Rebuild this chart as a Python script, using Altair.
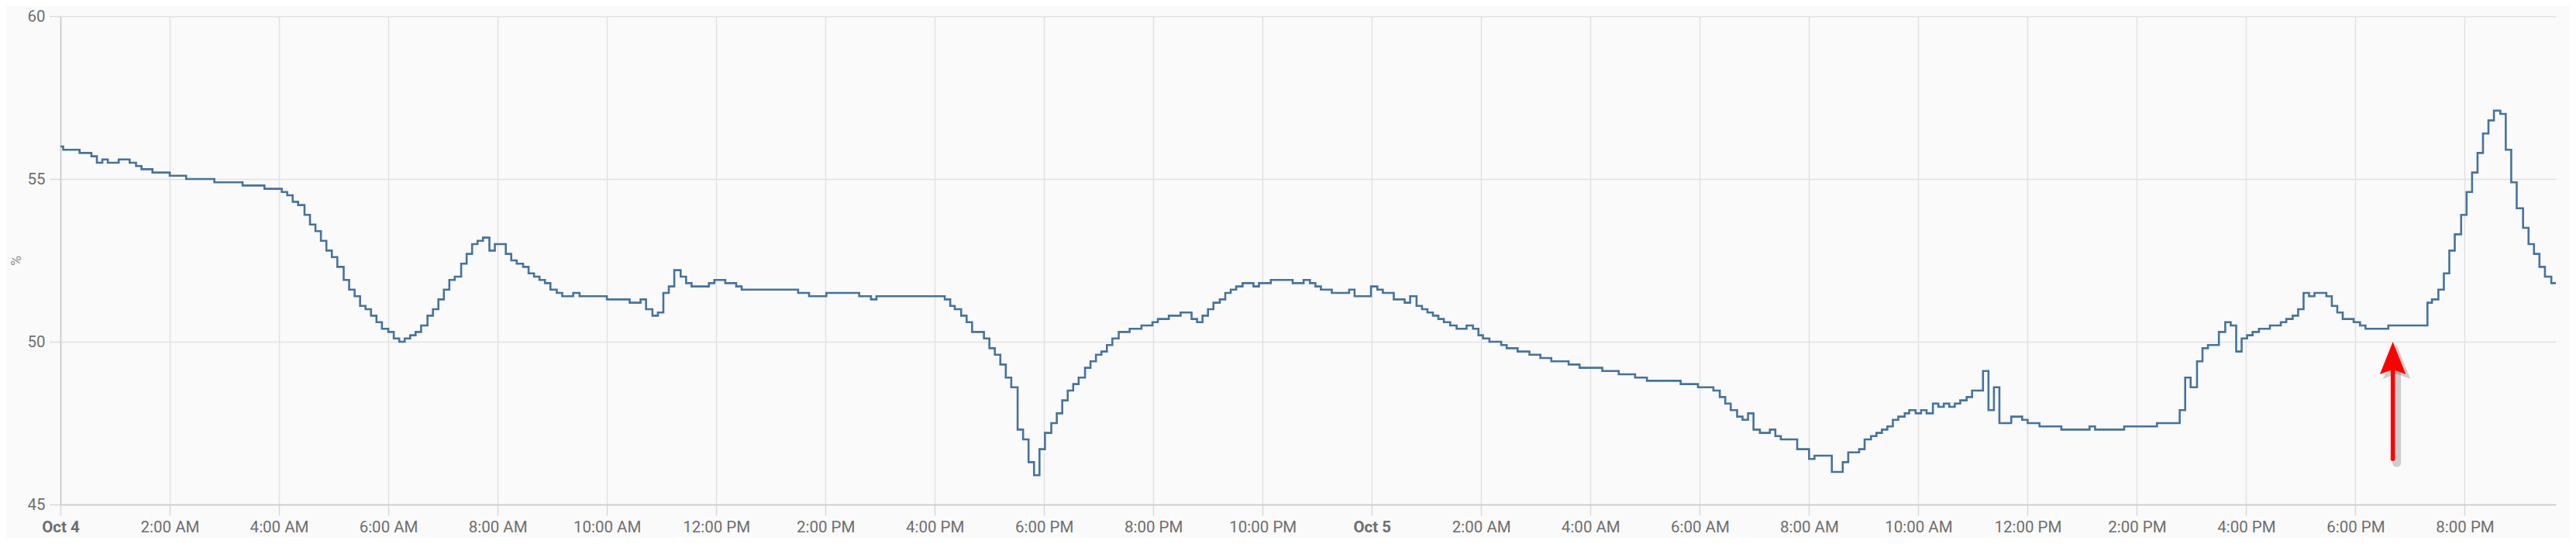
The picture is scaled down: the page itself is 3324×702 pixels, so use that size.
import altair as alt
import pandas as pd

# minutes after Oct 4 00:00 at which the reading changes, and the reading (%)
minutes = [
    0, 3, 21, 34, 40, 46, 52, 64, 76, 83, 89, 101, 120, 138, 169, 200, 224, 243, 249, 255,
    261, 268, 274, 280, 286, 292, 298, 304, 311, 317, 323, 329, 335, 341, 347, 353, 360, 366, 372, 378,
    384, 390, 396, 403, 409, 415, 421, 427, 433, 440, 446, 452, 458, 464, 471, 477, 489, 495, 501, 508,
    514, 520, 526, 532, 538, 545, 551, 563, 570, 600, 625, 637, 643, 650, 656, 662, 668, 674, 681, 687,
    693, 712, 718, 730, 742, 748, 810, 822, 841, 877, 890, 896, 971, 977, 982, 989, 995, 1001, 1014, 1020,
    1026, 1032, 1038, 1044, 1051, 1057, 1063, 1069, 1075, 1081, 1088, 1094, 1100, 1106, 1112, 1118, 1125, 1131, 1137, 1143,
    1149, 1155, 1162, 1174, 1187, 1199, 1205, 1217, 1230, 1242, 1248, 1254, 1260, 1266, 1273, 1279, 1285, 1291, 1298, 1310,
    1316, 1329, 1353, 1365, 1372, 1378, 1384, 1396, 1415, 1421, 1439, 1446, 1452, 1464, 1476, 1482, 1489, 1495, 1501, 1507,
    1513, 1519, 1526, 1533, 1544, 1551, 1557, 1562, 1569, 1582, 1588, 1600, 1613, 1625, 1637, 1656, 1668, 1693, 1711, 1729,
    1742, 1779, 1798, 1815, 1822, 1828, 1834, 1841, 1847, 1853, 1859, 1866, 1877, 1883, 1889, 1907, 1920, 1926, 1945, 1957,
    1963, 1975, 1981, 1988, 1994, 2000, 2006, 2012, 2018, 2025, 2030, 2037, 2043, 2049, 2056, 2062, 2068, 2074, 2080, 2086,
    2093, 2099, 2111, 2117, 2123, 2129, 2142, 2154, 2160, 2173, 2197, 2228, 2234, 2266, 2302, 2327, 2333, 2339, 2346, 2352,
    2358, 2370, 2377, 2383, 2389, 2395, 2401, 2407, 2414, 2426, 2438, 2444, 2451, 2457, 2463, 2469, 2475, 2488, 2494, 2500,
    2506, 2518, 2525, 2531, 2556, 2599, 2604, 2611, 2617, 2623, 2629, 2636, 2642, 2648, 2654, 2660, 2666, 2672, 2679, 2685,
    2691, 2697, 2704, 2710, 2716, 2722, 2728, 2735, 2740,
]
humidity = [
    56.0, 55.9, 55.8, 55.7, 55.5, 55.6, 55.5, 55.6, 55.5, 55.4, 55.3, 55.2, 55.1, 55.0, 54.9, 54.8, 54.7, 54.6, 54.5, 54.3,
    54.2, 53.9, 53.6, 53.4, 53.1, 52.8, 52.6, 52.3, 51.9, 51.6, 51.4, 51.1, 51.0, 50.8, 50.6, 50.4, 50.3, 50.1, 50.0, 50.1,
    50.2, 50.3, 50.5, 50.8, 51.0, 51.3, 51.6, 51.9, 52.0, 52.4, 52.7, 53.0, 53.1, 53.2, 52.8, 53.0, 52.7, 52.5, 52.4, 52.3,
    52.1, 52.0, 51.9, 51.8, 51.6, 51.5, 51.4, 51.5, 51.4, 51.3, 51.2, 51.3, 51.0, 50.8, 50.9, 51.5, 51.7, 52.2, 52.0, 51.8,
    51.7, 51.8, 51.9, 51.8, 51.7, 51.6, 51.5, 51.4, 51.5, 51.4, 51.3, 51.4, 51.3, 51.1, 51.0, 50.8, 50.6, 50.3, 50.1, 49.8,
    49.6, 49.3, 48.9, 48.6, 47.3, 47.0, 46.3, 45.9, 46.7, 47.2, 47.5, 47.8, 48.2, 48.5, 48.7, 48.9, 49.2, 49.4, 49.6, 49.7,
    49.9, 50.1, 50.3, 50.4, 50.5, 50.6, 50.7, 50.8, 50.9, 50.7, 50.6, 50.8, 51.0, 51.2, 51.3, 51.5, 51.6, 51.7, 51.8, 51.7,
    51.8, 51.9, 51.8, 51.9, 51.8, 51.7, 51.6, 51.5, 51.6, 51.4, 51.7, 51.6, 51.5, 51.3, 51.2, 51.4, 51.1, 51.0, 50.9, 50.8,
    50.7, 50.6, 50.5, 50.4, 50.5, 50.4, 50.2, 50.1, 50.0, 49.9, 49.8, 49.7, 49.6, 49.5, 49.4, 49.3, 49.2, 49.1, 49.0, 48.9,
    48.8, 48.7, 48.6, 48.5, 48.3, 48.1, 47.9, 47.7, 47.6, 47.8, 47.3, 47.2, 47.3, 47.1, 47.0, 46.7, 46.4, 46.5, 46.0, 46.3,
    46.6, 46.7, 47.0, 47.1, 47.2, 47.3, 47.4, 47.6, 47.7, 47.8, 47.9, 47.8, 47.9, 47.8, 48.1, 48.0, 48.1, 48.0, 48.1, 48.2,
    48.3, 48.5, 49.1, 47.9, 48.6, 47.5, 47.7, 47.6, 47.5, 47.4, 47.3, 47.4, 47.3, 47.4, 47.5, 47.9, 48.9, 48.6, 49.4, 49.8,
    49.9, 50.3, 50.6, 50.5, 49.7, 50.1, 50.2, 50.3, 50.4, 50.5, 50.6, 50.7, 50.8, 51.0, 51.5, 51.4, 51.5, 51.4, 51.1, 50.9,
    50.7, 50.6, 50.5, 50.4, 50.5, 51.2, 51.3, 51.6, 52.1, 52.8, 53.3, 53.9, 54.6, 55.2, 55.8, 56.4, 56.8, 57.1, 57.0, 55.9,
    54.9, 54.1, 53.5, 53.0, 52.7, 52.3, 52.0, 51.8, 51.8,
]

y_ticks = [45, 50, 55, 60]
x_tick_hours = list(range(0, 46, 2))

# red annotation arrow (minutes after Oct 4 00:00, values in %)
arrow_minute = [2561]
arrow_tail = [46.4]
arrow_neck = [49.2]
arrow_head_mid = [49.5]

start = pd.Timestamp("2023-10-04 00:00")
df = pd.DataFrame({
    "time": [start + pd.Timedelta(minutes=m) for m in minutes],
    "value": humidity,
})
arrow_df = pd.DataFrame({
    "time": [start + pd.Timedelta(minutes=m) for m in arrow_minute],
    "tail": arrow_tail,
    "neck": arrow_neck,
    "mid": arrow_head_mid,
})
x_tick_values = [
    alt.DateTime(year=2023, month=10, date=4 + h // 24, hours=h % 24) for h in x_tick_hours
]

LABEL_FONT = "Roboto"
LABEL_EXPR = (
    "hours(datum.value) == 0 ? timeFormat(datum.value, '%b ') + date(datum.value) : "
    "((hours(datum.value) % 12 == 0 ? 12 : hours(datum.value) % 12) + timeFormat(datum.value, ':%M %p'))"
)
x_enc = alt.X(
    "time:T",
    scale=alt.Scale(nice=False),
    axis=alt.Axis(
        title=None,
        values=x_tick_values,
        labelExpr=LABEL_EXPR,
        labelFontWeight={"condition": {"test": "hours(datum.value) == 0", "value": "bold"}, "value": "normal"},
        labelColor="#6e6e6e",
        labelFontSize=20.5,
        labelFont=LABEL_FONT,
        labelPadding=5,
        tickSize=14,
        tickColor="#d9d9d9",
        tickWidth=1.5,
        gridColor="#e2e2e2",
        gridWidth=1.5,
        domainColor="#c8c8c8",
        domainWidth=1.5,
        labelOverlap=False,
        labelFlush=False,
    ),
)
y_scale = alt.Scale(domain=[45, 60], nice=False, zero=False)
y_axis = alt.Axis(
    values=y_ticks,
    title="%",
    titleAngle=270,
    titleX=-57,
    titleY=315,
    titleAlign="center",
    titleBaseline="middle",
    titleFontSize=18,
    titleFontWeight="normal",
    titleColor="#8a8a8a",
    titleFont=LABEL_FONT,
    labelColor="#6e6e6e",
    labelFontSize=20.5,
    labelFont=LABEL_FONT,
    labelPadding=6,
    tickSize=14,
    tickColor="#d9d9d9",
    tickWidth=1.5,
    gridColor="#e2e2e2",
    gridWidth=1.5,
    domainColor="#c8c8c8",
    domainWidth=1.5,
)

line = alt.Chart(df).mark_line(
    interpolate="step-after", color="#44739e", strokeWidth=2.6
).encode(
    x=x_enc,
    y=alt.Y("value:Q", scale=y_scale, axis=y_axis),
)

HEAD = "M0,-1L0.8,1L0,0.7L-0.8,1Z"

shadow_shaft = alt.Chart(arrow_df).mark_rule(
    color="#000000", opacity=0.18, strokeWidth=11, strokeCap="round", xOffset=5, yOffset=5
).encode(x="time:T", y=alt.Y("tail:Q", scale=y_scale), y2="neck:Q")
shadow_head = alt.Chart(arrow_df).mark_point(
    shape=HEAD, filled=True, color="#000000", opacity=0.18, size=1950, xOffset=5, yOffset=5, strokeWidth=0
).encode(x="time:T", y=alt.Y("mid:Q", scale=y_scale))
shaft = alt.Chart(arrow_df).mark_rule(
    color="#ff0000", strokeWidth=5.5, strokeCap="round"
).encode(x="time:T", y=alt.Y("tail:Q", scale=y_scale), y2="neck:Q")
head = alt.Chart(arrow_df).mark_point(
    shape=HEAD, filled=True, color="#ff0000", opacity=1, size=1764, strokeWidth=0
).encode(x="time:T", y=alt.Y("mid:Q", scale=y_scale))

chart = alt.layer(line, shadow_shaft, shadow_head, shaft, head).properties(
    width=3220,
    height=630,
    background="#fafafa",
    padding={"left": 70, "top": 13, "right": 18, "bottom": 43},
    autosize=alt.AutoSizeParams(type="none"),
).configure_view(strokeWidth=0)

chart.save("out.html", embed_options={"renderer": "svg", "actions": False})
